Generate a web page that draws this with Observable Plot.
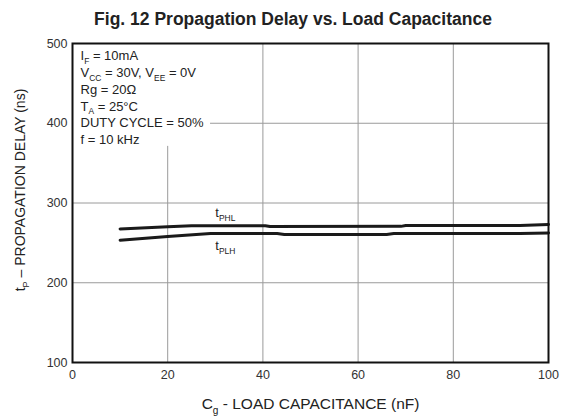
<!DOCTYPE html>
<html><head><meta charset="utf-8">
<script src="https://cdn.jsdelivr.net/npm/d3@7"></script>
<script src="https://cdn.jsdelivr.net/npm/@observablehq/plot@0.6"></script>
<style>
body{margin:0;background:#fff;font-family:"Liberation Sans",Arial,sans-serif;}
#title{height:25px;padding-top:9px;line-height:20px;font-size:17.5px;font-weight:bold;color:#222;text-align:center;padding-left:20px;box-sizing:content-box;width:546px;white-space:nowrap;}
</style>
</head><body>
<div id="title">Fig. 12 Propagation Delay vs. Load Capacitance</div>
<div id="chart"></div>
<script>
// Data
const capPHL = [10, 20, 25, 40.5, 41.5, 69, 70, 94, 100];
const delayPHL = [267.5, 270.2, 271.5, 271.5, 270.5, 270.7, 271.7, 271.7, 273];
const capPLH = [10, 20, 29, 43, 44.5, 66, 67.5, 94, 100];
const delayPLH = [253.3, 258, 261.7, 261.7, 260.4, 260.4, 261.7, 261.7, 262.5];
const xTicks = [0, 20, 40, 60, 80, 100];
const yTicks = [100, 200, 300, 400, 500];
const gridX = [20, 40, 60, 80];
const gridXTop = [371, 500, 500, 500];
const gridY = [200, 300, 400];
const gridYStart = [0, 0, 29];
const notes = ["I_{F} = 10mA", "V_{CC} = 30V, V_{EE} = 0V", "Rg = 20\u03A9", "T_{A} = 25\u00B0C", "DUTY CYCLE = 50%", "f = 10 kHz"];
const seriesLabels = ["t_{PHL}", "t_{PLH}"];
const labelX = [30, 30];
const labelY = [287.9, 246];

const phl = capPHL.map((c, i) => ({x: c, y: delayPHL[i]}));
const plh = capPLH.map((c, i) => ({x: c, y: delayPLH[i]}));
const vGrid = gridX.map((g, i) => ({x: g, y2: gridXTop[i]}));
const hGrid = gridY.map((g, i) => ({y: g, x1: gridYStart[i]}));
const lbls = seriesLabels.map((t, i) => ({t, x: labelX[i], y: labelY[i]}));

const plot = Plot.plot({
  width: 566, height: 383,
  marginTop: 9, marginBottom: 55, marginLeft: 72, marginRight: 18,
  style: {fontSize: "12.5px", fontFamily: "Liberation Sans, Arial, sans-serif", color: "#333", background: "transparent"},
  x: {domain: [0, 100], ticks: xTicks, tickSize: 0, tickPadding: 8, label: null},
  y: {domain: [100, 500], ticks: yTicks, tickSize: 0, tickPadding: 5, label: null},
  marks: [
    Plot.ruleX(vGrid, {x: "x", y1: 100, y2: "y2", stroke: "#9a9a9a", strokeWidth: 1}),
    Plot.ruleY(hGrid, {y: "y", x1: "x1", x2: 100, stroke: "#9a9a9a", strokeWidth: 1}),
    Plot.line(phl, {x: "x", y: "y", stroke: "#1a1a1a", strokeWidth: 3}),
    Plot.line(plh, {x: "x", y: "y", stroke: "#1a1a1a", strokeWidth: 3}),
    Plot.text(lbls, {x: "x", y: "y", text: "t", textAnchor: "start", fontSize: 13, fill: "#222"}),
    ...notes.map((t, i) => Plot.text([t], {text: d => d, frameAnchor: "top-left", dx: 8, dy: 12.5 + i * 16.8, textAnchor: "start", lineAnchor: "middle", fontSize: 13, fill: "#222"})),
    Plot.frame({stroke: "#111", strokeWidth: 2}),
    Plot.text(["C_{g} - LOAD CAPACITANCE (nF)"], {text: d => d, frameAnchor: "bottom", dy: 42, textAnchor: "middle", lineAnchor: "middle", fontSize: 15.5, fill: "#222"}),
    Plot.text(["t_{P} \u2013 PROPAGATION DELAY (ns)"], {text: d => d, frameAnchor: "left", dx: -52, dy: -13, rotate: -90, textAnchor: "middle", lineAnchor: "middle", fontSize: 14, fill: "#222"})
  ]
});
document.getElementById("chart").appendChild(plot);

// turn _{...} markup into subscripts
d3.select(plot).selectAll("text").each(function() {
  const el = this;
  const s = el.textContent;
  if (!s.includes("_{")) return;
  const fs = parseFloat(getComputedStyle(el).fontSize) || 12;
  const shift = fs * 0.3;
  const parts = s.split(/(_\{[^}]*\})/).filter(p => p.length > 0);
  while (el.firstChild) el.removeChild(el.firstChild);
  const sel = d3.select(el);
  let inSub = false;
  for (const p of parts) {
    const m = p.match(/^_\{([^}]*)\}$/);
    if (m) {
      sel.append("tspan").attr("dy", shift).attr("font-size", fs * 0.65).text(m[1]);
      inSub = true;
    } else {
      const t = sel.append("tspan").text(p);
      if (inSub) t.attr("dy", -shift);
      inSub = false;
    }
  }
});
</script>
</body></html>
